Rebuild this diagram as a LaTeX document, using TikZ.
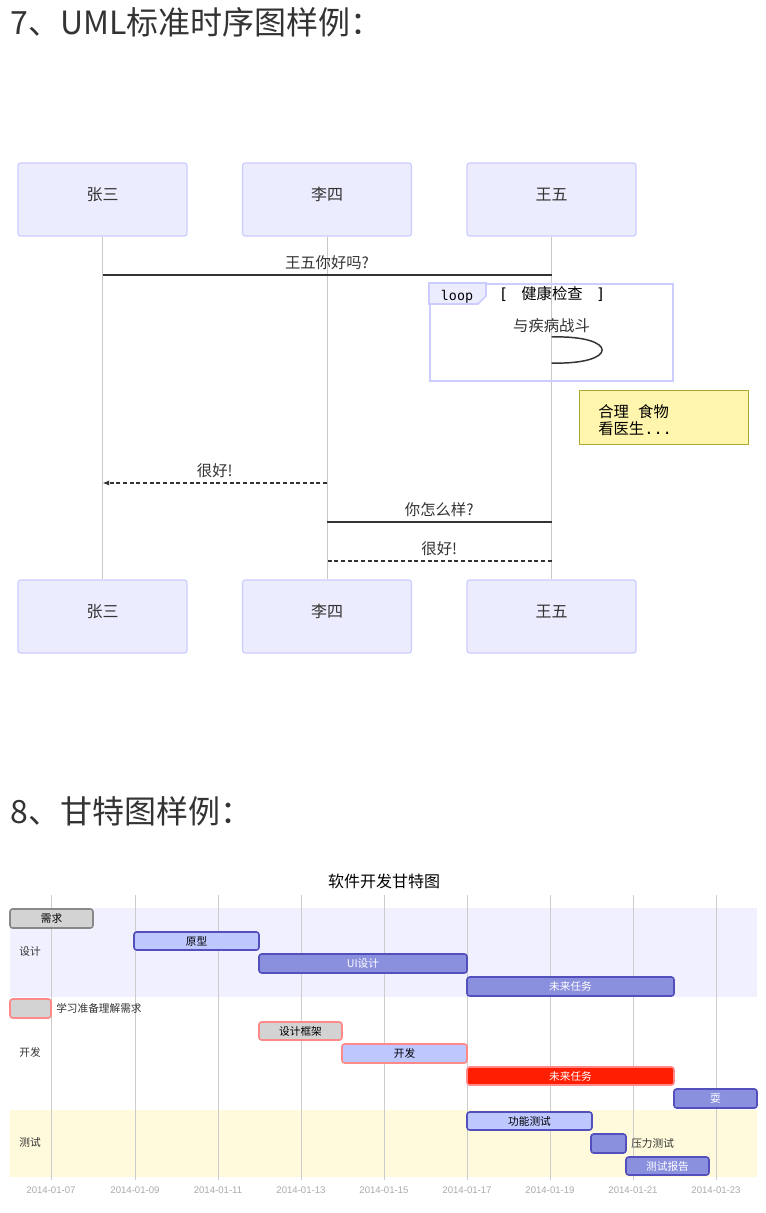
\documentclass[tikz,border=0pt]{standalone}
\usepackage{fontspec}
\setmainfont{Noto Sans CJK SC}
\newfontfamily\mono{DejaVu Sans Mono}
\newfontfamily\latinsans{Liberation Sans}
\usetikzlibrary{arrows.meta,fit}
\definecolor{titlegray}{HTML}{333333}
\definecolor{actfill}{HTML}{ECECFF}
\definecolor{actborder}{HTML}{CCCCFF}
\definecolor{lifegray}{HTML}{C8C8C8}
\definecolor{msggray}{HTML}{333333}
\definecolor{notefill}{HTML}{FFF5AD}
\definecolor{noteborder}{HTML}{AAAA33}
\definecolor{seczero}{HTML}{F0F0FF}
\definecolor{sectwo}{HTML}{FFFADB}
\definecolor{gridgray}{HTML}{CCCCCC}
\definecolor{taskfill}{HTML}{8A90DD}
\definecolor{taskborder}{HTML}{534FBC}
\definecolor{activefill}{HTML}{BFC7FF}
\definecolor{donefill}{HTML}{D3D3D3}
\definecolor{doneborder}{HTML}{888888}
\definecolor{critborder}{HTML}{FF8888}
\definecolor{critfill}{HTML}{FF1E00}
\definecolor{datagray}{HTML}{AAAAAA}
% name, x1, y1, x2, y2, style, text colour, text
\newcommand\gbar[8]{\node[#6, fit={(#2,#3) (#4,#5)}] (#1) {};
  \node[bartext, text=#7] (#1t) at (#1.center) {#8};}
\tikzset{
  heading/.style={anchor=west, inner sep=0, text=titlegray, font=\fontsize{24}{28}\selectfont},
  actor/.style={draw=actborder, fill=actfill, line width=0.9pt, rounded corners=2pt,
    minimum width=126.75pt, minimum height=54.75pt, inner sep=0},
  actortext/.style={inner sep=0, font=\fontsize{12}{14}\selectfont, text=titlegray, yshift=3.5pt},
  life/.style={draw=lifegray, line width=0.75pt},
  msg/.style={draw=msggray, line width=1.1pt},
  reply/.style={draw=msggray, line width=1.1pt, dash pattern=on 3pt off 2pt},
  msglabel/.style={font=\fontsize{11.5}{13}\selectfont, text=titlegray, inner sep=0},
  loopframe/.style={draw=actborder, line width=1.5pt, inner sep=0},
  notebox/.style={draw=noteborder, fill=notefill, line width=0.75pt, inner sep=0},
  gtask/.style={inner sep=0, rounded corners=2pt, line width=1.2pt},
  bartext/.style={inner sep=0, font=\fontsize{8}{9}\selectfont},
  future/.style={gtask, fill=taskfill, draw=taskborder},
  active/.style={gtask, fill=activefill, draw=taskborder},
  done/.style={gtask, fill=donefill, draw=doneborder},
  critdone/.style={gtask, fill=donefill, draw=critborder},
  critactive/.style={gtask, fill=activefill, draw=critborder},
  critfuture/.style={gtask, fill=critfill, draw=critborder},
  seclabel/.style={font=\fontsize{8}{9}\selectfont, text=titlegray, inner sep=0},
  outlabel/.style={anchor=west, font=\fontsize{8}{9}\selectfont, text=titlegray, inner sep=0},
  datelabel/.style={font=\latinsans\fontsize{7.2}{8}\selectfont, text=datagray, inner sep=0},
  gridline/.style={draw=gridgray, line width=0.75pt}
}
\begin{document}
\begin{tikzpicture}[x=0.75pt,y=-0.75pt]
\fill[white] (0,0) rectangle (765,1213);
\useasboundingbox (0,0) rectangle (765,1213);

% ---------- Sequence diagram ----------
\node[heading] (t1) at (10,22) {7、UML标准时序图样例：};

\node[actor] (zs) at (102.5,199.5) {};
\node[actor] (ls) at (327,199.5) {};
\node[actor] (ww) at (551.5,199.5) {};
\node[actor] (zsb) at (102.5,616.5) {};
\node[actor] (lsb) at (327,616.5) {};
\node[actor] (wwb) at (551.5,616.5) {};
\node[actortext] (zst) at (zs.center) {张三};
\node[actortext] (lst) at (ls.center) {李四};
\node[actortext] (wwt) at (ww.center) {王五};
\node[actortext] (zsbt) at (zsb.center) {张三};
\node[actortext] (lsbt) at (lsb.center) {李四};
\node[actortext] (wwbt) at (wwb.center) {王五};

\draw[life] (zs.south) -- (zsb.north);
\draw[life] (ls.south) -- (lsb.north);
\draw[life] (ww.south) -- (wwb.north);

\coordinate (r1) at (0,275);
\coordinate (r2) at (0,483);
\coordinate (r3) at (0,522);
\coordinate (r4) at (0,561);
\coordinate (s1) at (0,337);
\coordinate (s2) at (0,363);

\draw[msg] (zs |- r1) -- (ww |- r1) node[msglabel, midway, above=3.5pt] (l1) {王五你好吗?};

\node[loopframe, fit={(430,284) (673,381)}] (loop) {};
\draw[draw=actborder, fill=actfill, line width=1.2pt] (loop.north west) -- ++(57,0) -- ++(0,13) -- ++(-8,8) -- ++(-49,0) -- cycle;
\node[font=\mono\fontsize{10}{12}\selectfont, text=black, inner sep=0] (looplbl) at (457,297) {loop};
\node[font=\fontsize{11.5}{13}\selectfont, text=black, inner sep=0] (loopcond) at (552,294) {{\mono[}\hspace{10pt}健康检查\hspace{10pt}{\mono]}};
\node[msglabel] (l2) at (551.5,326) {与疾病战斗};
\draw[msg] (ww |- s1) .. controls (619,335) and (619,365) .. (ww |- s2);

\node[notebox, fit={(579,390) (748,444)}] (note) {};
\node[anchor=north west, align=left, inner sep=0, font=\fontsize{11.5}{13}\selectfont, text=black] (notetext) at (598,404) {合理{\mono\ }食物\\看医生{\mono...}};

\draw[reply, -{Latex[length=5pt,width=4pt]}] (ls |- r2) -- (zs |- r2) node[msglabel, midway, above=3.5pt] (l3) {很好!};
\draw[msg] (ls |- r3) -- (ww |- r3) node[msglabel, midway, above=3.5pt] (l4) {你怎么样?};
\draw[reply] (ww |- r4) -- (ls |- r4) node[msglabel, midway, above=3.5pt] (l5) {很好!};

% ---------- Gantt chart ----------
\node[heading] (t2) at (10,811) {8、甘特图样例：};
\node[font=\fontsize{12}{14}\selectfont, text=black, inner sep=0] (gt) at (384,881) {软件开发甘特图};

\fill[seczero] (10,908) rectangle (757,997);
\fill[sectwo] (10,1110) rectangle (757,1177);

\foreach \xx/\dd/\nm in {51/07/g1,135/09/g2,218/11/g3,301/13/g4,384/15/g5,467/17/g6,550/19/g7,633/21/g8,716/23/g9}{
  \coordinate (\nm top) at (\xx,895);
  \coordinate (\nm bot) at (\xx,1180);
  \draw[gridline] (\nm top) -- (\nm bot);
  \node[datelabel] (\nm date) at (\xx,1190) {2014-01-\dd};
}

\node[seclabel] (sec1) at (30,951) {设计};
\node[seclabel] (sec2) at (30,1052) {开发};
\node[seclabel] (sec3) at (30,1142) {测试};

\gbar{b1}{10}{909}{93}{928}{done}{black}{需求}
\gbar{b2}{134}{932}{259}{950}{active}{black}{原型}
\gbar{b3}{259}{954}{467}{973}{future}{white}{UI设计}
\gbar{b4}{467}{977}{674}{996}{future}{white}{未来任务}
\gbar{b5}{10}{999}{51}{1018}{critdone}{black}{}
\node[outlabel] (b5l) at (56,1008.5) {学习准备理解需求};
\gbar{b6}{259}{1022}{342}{1040}{critdone}{black}{设计框架}
\gbar{b7}{342}{1044}{467}{1063}{critactive}{black}{开发}
\gbar{b8}{467}{1067}{674}{1085}{critfuture}{white}{未来任务}
\gbar{b9}{674}{1089}{757}{1108}{future}{white}{耍}
\gbar{b10}{467}{1112}{592}{1130}{active}{black}{功能测试}
\gbar{b11}{591}{1134}{626}{1153}{future}{white}{}
\node[outlabel] (b11l) at (631,1143.5) {压力测试};
\gbar{b12}{626}{1157}{709}{1175}{future}{white}{测试报告}
\end{tikzpicture}
\end{document}
